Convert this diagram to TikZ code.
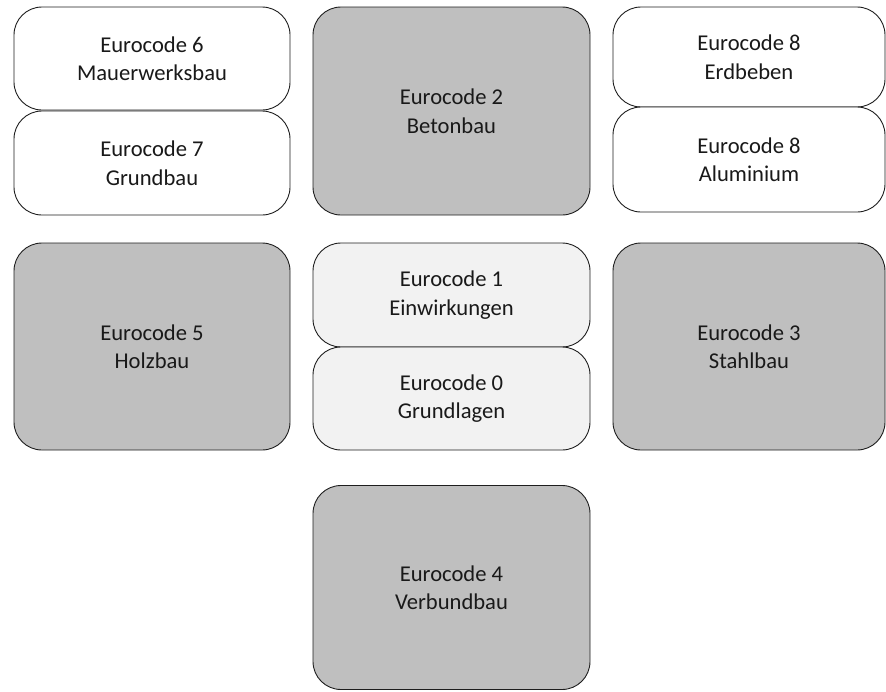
\documentclass[tikz,border=0pt]{standalone}
\usepackage{fontspec}
\setmainfont{Carlito}
\usepackage{tikz}

\definecolor{darkfill}{RGB}{191,191,191}
\definecolor{lightfill}{RGB}{242,242,242}
\definecolor{edgecol}{RGB}{30,30,30}

\begin{document}
\begin{tikzpicture}[x=1pt,y=-1pt,
  codebox/.style={draw=edgecol,line width=0.9pt,rounded corners=28pt,inner sep=0pt,
    align=center,text=black!90,font=\fontsize{22.6}{28.5}\selectfont},
  whitebox/.style={codebox,fill=white},
  lightbox/.style={codebox,fill=lightfill},
  graybox/.style={codebox,fill=darkfill}]
\useasboundingbox (0,0) rectangle (886,691);

% top row
\node[whitebox,minimum width=276pt,minimum height=103pt] (ec6) at (152,58.5) {Eurocode 6\\Mauerwerksbau};
\node[whitebox,minimum width=276pt,minimum height=104pt] (ec7) at (152,163) {Eurocode 7\\Grundbau};
\node[graybox,minimum width=277pt,minimum height=208pt] (ec2) at (451.5,111) {Eurocode 2\\Betonbau};
\node[whitebox,minimum width=272pt,minimum height=100pt] (ec8e) at (749,57) {Eurocode 8\\Erdbeben};
\node[whitebox,minimum width=272pt,minimum height=105pt] (ec8a) at (749,159.5) {Eurocode 8\\Aluminium};

% middle row
\node[graybox,minimum width=276pt,minimum height=207pt] (ec5) at (152,346.5) {Eurocode 5\\Holzbau};
\node[lightbox,minimum width=277pt,minimum height=104pt] (ec1) at (451.5,295) {Eurocode 1\\Einwirkungen};
\node[lightbox,minimum width=277pt,minimum height=103pt] (ec0) at (451.5,398.5) {Eurocode 0\\Grundlagen};
\node[graybox,minimum width=272pt,minimum height=207pt] (ec3) at (749,346.5) {Eurocode 3\\Stahlbau};

% bottom row
\node[graybox,minimum width=277pt,minimum height=204pt] (ec4) at (451.5,587.5) {Eurocode 4\\Verbundbau};
\end{tikzpicture}
\end{document}
